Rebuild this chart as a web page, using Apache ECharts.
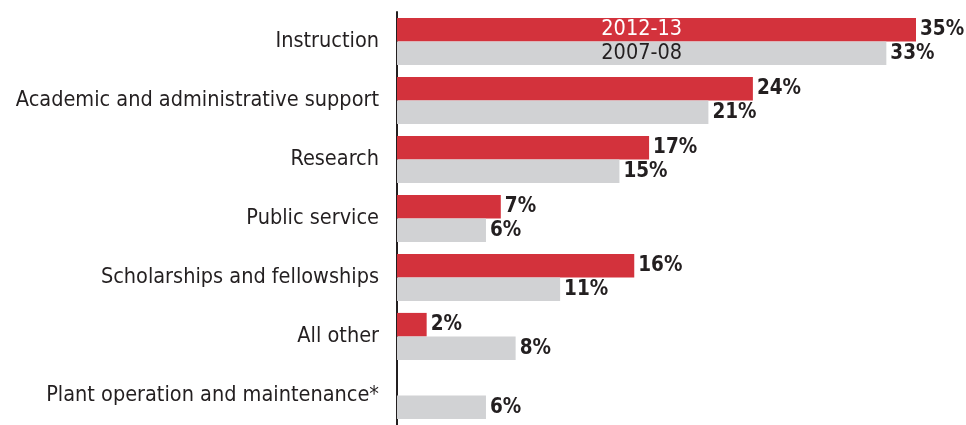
<!DOCTYPE html>
<html>
<head>
<meta charset="utf-8">
<script src="https://cdn.jsdelivr.net/npm/echarts@6/dist/echarts.min.js"></script>
<style>
  html, body { margin: 0; padding: 0; background: #fff; }
  #chart { width: 966px; height: 425px; }
</style>
</head>
<body>
<div id="chart"></div>
<script>
const categories = [
  'Instruction',
  'Academic and administrative support',
  'Research',
  'Public service',
  'Scholarships and fellowships',
  'All other',
  'Plant operation and maintenance*'
]
const values201213 = [35, 24, 17, 7, 16, 2, '-']
const values200708 = [33, 21, 15, 6, 11, 8, 6]
const seriesNames = ['2012-13', '2007-08']

const FONT = '"Liberation Sans Narrow", "DejaVu Sans Condensed", "Roboto", sans-serif'
const TEXT = '#231f20'

const chart = echarts.init(document.getElementById('chart'))

// series name written inside the first pair of bars
const nameX = values200708[0] / 2
function nameMark(name, color) {
  return {
    symbol: 'rect',
    symbolSize: 0,
    silent: true,
    label: {
      show: true,
      position: 'inside',
      color: color,
      fontFamily: FONT,
      fontSize: 21.5,
      formatter: name
    },
    data: [{ coord: [nameX, categories[0]] }]
  }
}

const valueLabel = {
  show: true,
  position: 'right',
  distance: 4,
  color: TEXT,
  fontFamily: FONT,
  fontWeight: 'bold',
  fontSize: 20.5,
  formatter: p => p.value + '%'
}

chart.setOption({
  animation: false,
  grid: { left: 397, top: 12, width: 519, height: 420 },
  xAxis: {
    type: 'value',
    min: 0,
    max: 35,
    show: false,
    splitLine: { show: false }
  },
  yAxis: {
    type: 'category',
    inverse: true,
    data: categories,
    axisLine: { show: true, lineStyle: { color: TEXT, width: 2 } },
    axisTick: { show: false },
    axisLabel: {
      margin: 18,
      color: TEXT,
      fontFamily: FONT,
      fontSize: 21.5
    }
  },
  series: [
    {
      name: seriesNames[0],
      type: 'bar',
      data: values201213,
      barGap: 0,
      barCategoryGap: '20%',
      itemStyle: { color: '#d3323c' },
      label: valueLabel,
      markPoint: nameMark(seriesNames[0], '#ffffff')
    },
    {
      name: seriesNames[1],
      type: 'bar',
      data: values200708,
      barGap: 0,
      barCategoryGap: '20%',
      itemStyle: { color: '#d1d2d4' },
      label: valueLabel,
      markPoint: nameMark(seriesNames[1], TEXT)
    }
  ]
})
</script>
</body>
</html>
